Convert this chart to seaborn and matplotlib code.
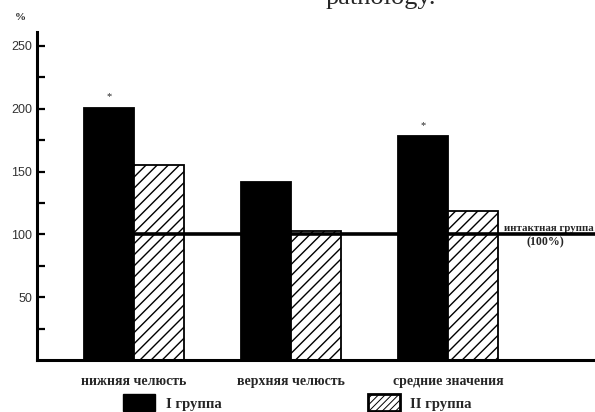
import matplotlib
matplotlib.use("Agg")
import matplotlib.pyplot as plt
from matplotlib.patches import Patch
import seaborn as sns
import pandas as pd

# Data (% of intact group)
categories = ["нижняя челюсть", "верхняя челюсть", "средние значения"]
groups = ["I группа", "II группа"]
group1_values = [201, 142, 178]
group2_values = [155, 103, 119]
significant = [True, False, True]   # marked with * over group I bar
reference_level = 100
yticks_major = [50, 100, 150, 200, 250]
yticks_minor = [25, 75, 125, 175, 225]

df = pd.DataFrame({
    "category": categories * 2,
    "group": [groups[0]] * 3 + [groups[1]] * 3,
    "value": group1_values + group2_values,
})

sns.set_theme(style="white")
plt.rcParams["font.family"] = ["Liberation Serif", "DejaVu Serif"]

fig = plt.figure(figsize=(5.95, 4.12), dpi=100)
ax = fig.add_axes([0.062, 0.126, 0.938, 0.796])

sns.barplot(data=df, x="category", y="value", hue="group", order=categories,
            hue_order=groups, palette=["black", "white"], width=0.64,
            edgecolor="black", linewidth=1.3, saturation=1, ax=ax, legend=False)

plt.rcParams["hatch.linewidth"] = 0.7
for bar in ax.containers[1]:
    bar.set_hatch("///")
    bar.set_facecolor("white")
    bar.set_edgecolor("black")

# Intact group reference line
ax.hlines(reference_level, 0, 3.2, color="black", linewidth=2.6, zorder=5)
ax.text(2.643, reference_level + 5, "интактная группа", ha="center", va="center",
        fontsize=7.8, fontweight="bold")
ax.text(2.618, reference_level - 6, "(100%)", ha="center", va="center",
        fontsize=8.5, fontweight="bold")

# Significance stars
for bar, flag in zip(ax.containers[0], significant):
    if flag:
        ax.text(bar.get_x() + bar.get_width() / 2, bar.get_height() + 5, "*",
                ha="center", va="bottom", fontsize=7.5)

ax.set_xlim(-0.618, 2.936)
ax.set_ylim(0, 261)
ax.set_xlabel("")
ax.set_ylabel("")
ax.set_yticks(yticks_major)
ax.set_yticks(yticks_minor, minor=True)
ax.tick_params(axis="y", which="both", direction="in", length=6, width=1.6,
               colors="black", labelsize=9, left=True)
for lbl in ax.get_yticklabels():
    lbl.set_family(["Liberation Sans", "DejaVu Sans"])
    lbl.set_color("#333333")
ax.tick_params(axis="x", length=0, pad=11)
for lbl in ax.get_xticklabels():
    lbl.set_fontsize(10)
    lbl.set_fontweight("bold")

for side in ["top", "right"]:
    ax.spines[side].set_visible(False)
for side in ["left", "bottom"]:
    ax.spines[side].set_color("black")
    ax.spines[side].set_linewidth(2.2)

ax.text(-0.03, 1.03, "%", transform=ax.transAxes, fontsize=8, fontweight="bold",
        ha="center", va="bottom")

handles = [Patch(facecolor="black", edgecolor="black"),
           Patch(facecolor="white", edgecolor="black", hatch="/////", linewidth=2)]
leg = fig.legend(handles, groups, loc="lower left", bbox_to_anchor=(0.195, -0.016),
                 ncol=2, frameon=False, handlelength=2.2, handleheight=1.4,
                 columnspacing=10.05, handletextpad=0.7, borderpad=0,
                 prop={"family": "Liberation Serif", "weight": "bold", "size": 10.5})

fig.text(0.547, 1 - 4 / 412, "pathology.", fontsize=19, ha="left", va="baseline")

fig.savefig("out.png", dpi=100)
